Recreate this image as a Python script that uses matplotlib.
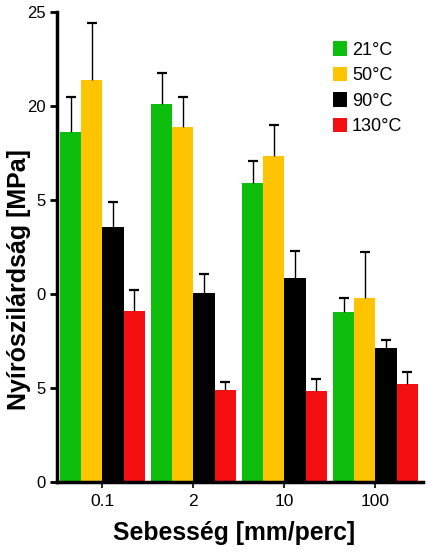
import matplotlib
matplotlib.use("Agg")
import matplotlib.pyplot as plt
import numpy as np
from matplotlib.patches import Patch

categories = ["0.1", "2", "10", "100"]
series_names = ["21°C", "50°C", "90°C", "130°C"]
values = {
    "21°C": [18.6, 20.1, 15.9, 9.05],
    "50°C": [21.4, 18.9, 17.35, 9.8],
    "90°C": [13.55, 10.05, 10.85, 7.1],
    "130°C": [9.1, 4.9, 4.85, 5.2],
}
errors = {
    "21°C": [1.9, 1.65, 1.2, 0.75],
    "50°C": [3.0, 1.6, 1.65, 2.45],
    "90°C": [1.35, 1.0, 1.45, 0.45],
    "130°C": [1.1, 0.4, 0.6, 0.65],
}
colors = ["#0DBE0D", "#FFC400", "#000000", "#F41010"]
ytick_vals = [0, 5, 10, 15, 20, 25]
ytick_labels = ["0", "5", "0", "5", "20", "25"]

plt.rcParams["font.family"] = ["Liberation Sans", "DejaVu Sans"]

fig = plt.figure(figsize=(4.31, 5.52), dpi=100)
ax = fig.add_axes([0.132, 0.127, 0.849, 0.851])

x = np.arange(len(categories))
w = 0.232
for i, name in enumerate(series_names):
    pos = x + (i - 1.5) * w
    ax.bar(pos, values[name], width=w, color=colors[i], edgecolor="none",
           label=name, zorder=2)
    eb = ax.errorbar(pos, values[name], yerr=[np.zeros(len(categories)), errors[name]],
                     fmt="none", ecolor="black", elinewidth=1.0, capsize=3.5,
                     capthick=1.6, zorder=3)
    caps = eb[1]
    if len(caps) == 2:
        caps[0].set_visible(False)

ax.set_xlim(-0.50, 3.52)
ax.set_ylim(0, 25)
ax.set_yticks(ytick_vals)
ax.set_yticklabels(ytick_labels, fontsize=12)
ax.set_xticks(x)
ax.set_xticklabels(categories, fontsize=12.5)
ax.tick_params(axis="y", direction="out", length=5, width=2, pad=3)
ax.tick_params(axis="x", direction="out", length=4, width=1.2, pad=5)

for s in ["top", "right"]:
    ax.spines[s].set_visible(False)
ax.spines["left"].set_linewidth(2.5)
ax.spines["bottom"].set_linewidth(2.5)

ax.set_ylabel("Nyírószilárdság [MPa]", fontsize=18, fontweight="bold", va="center")
ax.yaxis.set_label_coords(-0.104, 0.43)
ax.set_xlabel("Sebesség [mm/perc]", fontsize=17.8, fontweight="bold", va="center")
ax.xaxis.set_label_coords(0.484, -0.109)

handles = [Patch(facecolor=c, edgecolor="none") for c in colors]
leg = ax.legend(handles, series_names, loc="upper left", bbox_to_anchor=(0.72, 0.965),
                frameon=False, fontsize=13, handlelength=0.8, handleheight=0.85,
                handletextpad=0.25, labelspacing=0.45, borderpad=0.2)

fig.savefig("out.png", dpi=100)
